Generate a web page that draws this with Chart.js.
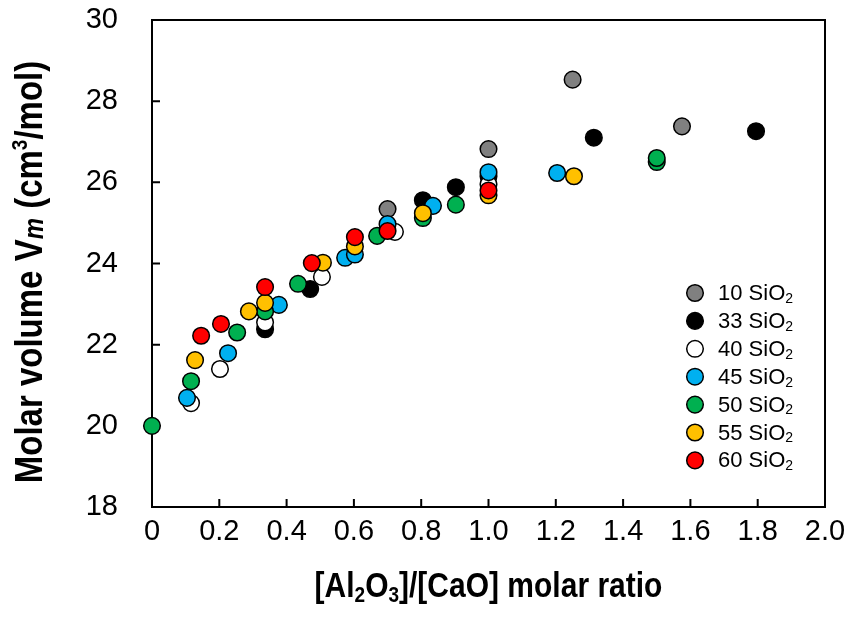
<!DOCTYPE html>
<html>
<head>
<meta charset="utf-8">
<script src="https://cdn.jsdelivr.net/npm/chart.js@4.4.0/dist/chart.umd.min.js"></script>
<style>
  html, body { margin: 0; padding: 0; background: #fff; }
</style>
</head>
<body>
<canvas id="chart" width="853" height="621"></canvas>
<script>
// Series labels (mol% SiO2) and colors
const seriesLabels = ['10', '33', '40', '45', '50', '55', '60'];
const seriesColors = ['#808080', '#000000', '#FFFFFF', '#00B0F0', '#00B050', '#FFC000', '#FF0000'];

// [Al2O3]/[CaO] ratio and molar volume for each series
const ratio10 = [0.70, 1.00, 1.25, 1.575];
const vm10    = [25.34, 26.82, 28.53, 27.38];

const ratio33 = [0.336, 0.47, 0.805, 0.903, 1.00, 1.313, 1.795];
const vm33    = [22.38, 23.37, 25.56, 25.88, 26.15, 27.10, 27.26];

const ratio40 = [0.116, 0.202, 0.336, 0.505, 0.722, 1.00];
const vm40    = [20.56, 21.40, 22.55, 23.67, 24.78, 25.95];

const ratio45 = [0.104, 0.226, 0.377, 0.574, 0.603, 0.70, 0.835, 1.00, 1.204];
const vm45    = [20.69, 21.79, 22.98, 24.14, 24.22, 24.97, 25.42, 26.25, 26.23];

const ratio50 = [0.0, 0.116, 0.253, 0.336, 0.434, 0.669, 0.805, 0.903, 1.50, 1.50];
const vm50    = [20.0, 21.10, 22.30, 22.82, 23.50, 24.68, 25.12, 25.45, 26.50, 26.60];

const ratio55 = [0.128, 0.288, 0.336, 0.508, 0.603, 0.805, 1.00, 1.254];
const vm55    = [21.62, 22.82, 23.03, 24.02, 24.42, 25.24, 25.68, 26.15];

const ratio60 = [0.146, 0.205, 0.336, 0.475, 0.603, 0.70, 1.00];
const vm60    = [22.22, 22.51, 23.42, 24.01, 24.65, 24.80, 25.80];

const ratios = [ratio10, ratio33, ratio40, ratio45, ratio50, ratio55, ratio60];
const volumes = [vm10, vm33, vm40, vm45, vm50, vm55, vm60];

// axis ticks
const xTicks = [0, 0.2, 0.4, 0.6, 0.8, 1.0, 1.2, 1.4, 1.6, 1.8, 2.0];
const yTicks = [18, 20, 22, 24, 26, 28, 30];

const FONT = "'Liberation Sans', Arial, sans-serif";

const datasets = seriesLabels.map((lab, i) => ({
    label: lab + ' SiO2',
    data: ratios[i].map((r, j) => ({ x: r, y: volumes[i][j] })),
    backgroundColor: seriesColors[i],
    borderColor: '#000',
    borderWidth: 1.5,
    pointRadius: 8.3,
    pointHoverRadius: 8.3,
    order: seriesLabels.length - i,   // later series on top
    clip: false
}));

// draw text made of several pieces (sub/superscripts), centred on cx
function drawRich(ctx, parts, cx, cy, angle, stretch) {
    ctx.save();
    ctx.translate(cx, cy);
    ctx.rotate(angle);
    ctx.scale(1, stretch);
    let total = 0;
    parts.forEach(p => { ctx.font = p.font; p.w = ctx.measureText(p.text).width; total += p.w; });
    let x = -total / 2;
    ctx.fillStyle = '#000';
    ctx.textBaseline = 'alphabetic';
    parts.forEach(p => { ctx.font = p.font; ctx.fillText(p.text, x, p.dy || 0); x += p.w; });
    ctx.restore();
}

const decor = {
    id: 'decor',
    beforeDatasetsDraw(chart) {
        const { ctx, chartArea: a, scales: { x, y } } = chart;
        ctx.save();
        ctx.strokeStyle = '#000';
        ctx.lineWidth = 2;
        ctx.strokeRect(a.left, a.top, a.right - a.left, a.bottom - a.top);
        ctx.beginPath();
        xTicks.forEach(t => {
            const px = x.getPixelForValue(t);
            ctx.moveTo(px, a.bottom);
            ctx.lineTo(px, a.bottom - 8);
        });
        yTicks.forEach(t => {
            const py = y.getPixelForValue(t);
            ctx.moveTo(a.left, py);
            ctx.lineTo(a.left + 8, py);
        });
        ctx.stroke();
        ctx.restore();
    },
    afterDraw(chart) {
        const { ctx, chartArea: a } = chart;
        const B = 'bold 30px ' + FONT, Bs = 'bold 19px ' + FONT;
        // x title
        drawRich(ctx, [
            { text: '[Al', font: B },
            { text: '2', font: Bs, dy: 4 },
            { text: 'O', font: B },
            { text: '3', font: Bs, dy: 4 },
            { text: ']/[CaO] molar ratio', font: B }
        ], (a.left + a.right) / 2, 597, 0, 1.15);
        // y title
        const Y = 'bold 33px ' + FONT;
        drawRich(ctx, [
            { text: 'Molar volume V', font: Y },
            { text: 'm', font: 'italic bold 24px ' + FONT, dy: 1 },
            { text: ' (cm', font: Y },
            { text: '3', font: 'bold 19px ' + FONT, dy: -13 },
            { text: '/mol)', font: Y }
        ], 42, 272, -Math.PI / 2, 1.15);
        // legend
        ctx.save();
        seriesLabels.forEach((lab, i) => {
            const cy = 293 + i * 27.9;
            ctx.beginPath();
            ctx.arc(695, cy, 8.3, 0, Math.PI * 2);
            ctx.fillStyle = seriesColors[i];
            ctx.fill();
            ctx.lineWidth = 1.5;
            ctx.strokeStyle = '#000';
            ctx.stroke();
            ctx.fillStyle = '#000';
            ctx.textBaseline = 'middle';
            ctx.font = '22px ' + FONT;
            const main = lab + ' SiO';
            ctx.fillText(main, 718, cy + 1);
            const w = ctx.measureText(main).width;
            ctx.font = '14px ' + FONT;
            ctx.fillText('2', 718 + w, cy + 6);
        });
        ctx.restore();
    }
};

new Chart(document.getElementById('chart').getContext('2d'), {
    type: 'scatter',
    data: { datasets: datasets },
    options: {
        responsive: false,
        animation: false,
        layout: { padding: { left: 0, right: 28, top: 20, bottom: 0 } },
        plugins: { legend: { display: false }, tooltip: { enabled: false } },
        scales: {
            x: {
                type: 'linear', min: 0, max: 2,
                afterBuildTicks: s => { s.ticks = xTicks.map(v => ({ value: v })); },
                ticks: {
                    callback: v => v === 0 ? '0' : v.toFixed(1),
                    font: { family: FONT, size: 29 }, color: '#000',
                    padding: 0, maxRotation: 0, autoSkip: false
                },
                grid: { display: false }, border: { display: false },
                afterFit: s => { s.height = 114; s.paddingLeft = 0; s.paddingRight = 0; }
            },
            y: {
                type: 'linear', min: 18, max: 30,
                afterBuildTicks: s => { s.ticks = yTicks.map(v => ({ value: v })); },
                ticks: {
                    font: { family: FONT, size: 29 }, color: '#000', padding: 26
                },
                grid: { display: false }, border: { display: false },
                afterFit: s => { s.width = 152; s.paddingTop = 0; s.paddingBottom = 0; }
            }
        }
    },
    plugins: [decor]
});
</script>
</body>
</html>
